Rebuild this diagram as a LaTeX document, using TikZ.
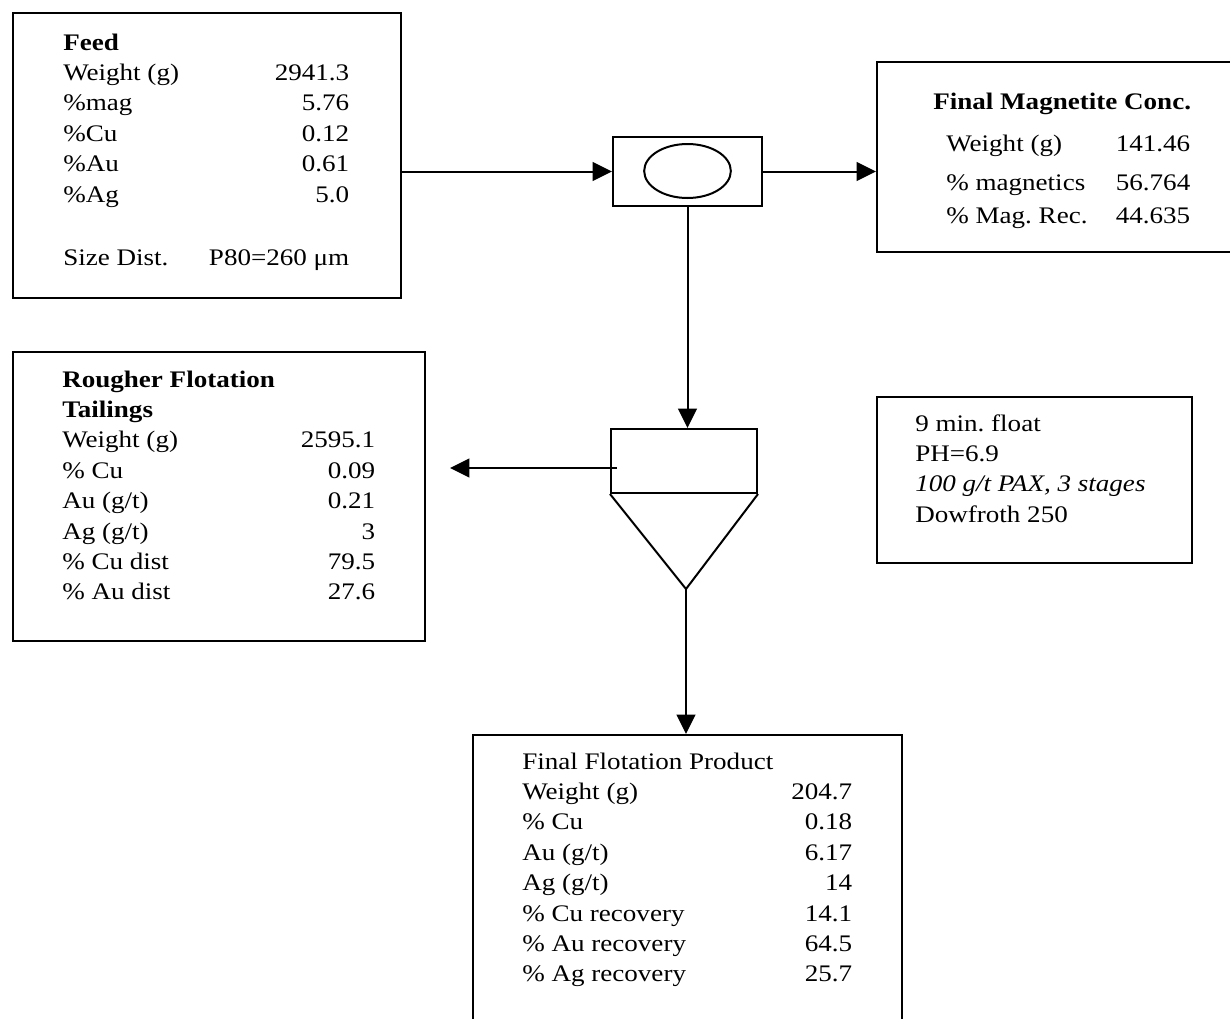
\documentclass[tikz,border=0pt]{standalone}
\usepackage{fontspec}
\setmainfont{Liberation Serif}[FakeStretch=1.14]
\usetikzlibrary{arrows.meta,shapes.geometric,fit}
\newlength\rowwd
\newcommand\rr[2]{\hbox to\rowwd{#1\hfil#2}}
\tikzset{
  frame/.style={draw, line width=1.5pt, inner sep=0pt},
  txt/.style={anchor=base west, inner sep=0pt, font=\fontsize{17.8pt}{22.8pt}\selectfont},
  arr/.style={line width=1.5pt, -{Triangle[length=14.5pt,width=14pt]}},
  plainline/.style={line width=1.5pt}
}
\frenchspacing
\begin{document}
\frenchspacing
\begin{tikzpicture}[x=0.75pt,y=-0.75pt]
\path[use as bounding box, fill=white] (0,0) rectangle (1230,1018);
\clip (0,0) rectangle (1230,1018);

% boxes
\node[frame, fit={(13,13)(401,298)}] (feed) {};
\node[frame, fit={(613,137)(762,206)}] (magsep) {};
\node[frame, ellipse, minimum width=65pt, minimum height=40.5pt] (magell) at (687.5,171) {};
\node[frame, fit={(877,62)(1245,252)}] (magconc) {};
\node[frame, fit={(13,352)(425,641)}] (rough) {};
\node[frame, fit={(611,429)(757,493)}] (cell) {};
\coordinate (apex) at (686,589);
\draw[plainline, line join=miter] (cell.south west) -- (apex) -- (cell.south east);
\node[frame, fit={(877,397)(1192,563)}] (cond) {};
\node[frame, fit={(473,735)(902,1040)}] (prod) {};

% connectors
\draw[arr] (feed.east |- magsep.west) -- (magsep.west);
\draw[arr] (magsep.east) -- (magsep.east -| magconc.west);
\draw[arr] (magsep.south) -- (magsep.south |- cell.north);
\coordinate (tlstart) at (617,468);
\coordinate (tlend) at (450,468);
\draw[arr] (tlstart) -- (tlend);
\draw[arr] (apex) -- (apex |- prod.north);

% texts
\node[txt] (feedtxt) at (63,50) {\setlength\rowwd{214.5pt}\begin{tabular}[t]{@{}l@{}}
\textbf{Feed}\\
\rr{Weight (g)}{2941.3}\\
\rr{\%mag}{5.76}\\
\rr{\%Cu}{0.12}\\
\rr{\%Au}{0.61}\\
\rr{\%Ag}{5.0}\\[24.5pt]
\rr{Size Dist.}{P80=260 μm}
\end{tabular}};

\node[txt] (magttl) at (933,109) {\textbf{Final Magnetite Conc.}};
\node[txt] (magtxt) at (946,151) {\setlength\rowwd{183pt}\begin{tabular}[t]{@{}l@{}}
\rr{Weight (g)}{141.46}\\[6.5pt]
\rr{\% magnetics}{56.764}\\[2pt]
\rr{\% Mag. Rec.}{44.635}
\end{tabular}};

\node[txt] (roughtxt) at (62,387) {\setlength\rowwd{234.75pt}\begin{tabular}[t]{@{}l@{}}
\textbf{Rougher Flotation}\\
\textbf{Tailings}\\
\rr{Weight (g)}{2595.1}\\
\rr{\% Cu}{0.09}\\
\rr{Au (g/t)}{0.21}\\
\rr{Ag (g/t)}{3}\\
\rr{\% Cu dist}{79.5}\\
\rr{\% Au dist}{27.6}
\end{tabular}};

\node[txt] (condtxt) at (915,431) {\begin{tabular}[t]{@{}l@{}}
9 min. float\\
PH=6.9\\
\textit{100 g/t PAX, 3 stages}\\
Dowfroth 250
\end{tabular}};

\node[txt] (prodtxt) at (522,769) {\setlength\rowwd{247.5pt}\begin{tabular}[t]{@{}l@{}}
Final Flotation Product\\
\rr{Weight (g)}{204.7}\\
\rr{\% Cu}{0.18}\\
\rr{Au (g/t)}{6.17}\\
\rr{Ag (g/t)}{14}\\
\rr{\% Cu recovery}{14.1}\\
\rr{\% Au recovery}{64.5}\\
\rr{\% Ag recovery}{25.7}
\end{tabular}};
\end{tikzpicture}
\end{document}
